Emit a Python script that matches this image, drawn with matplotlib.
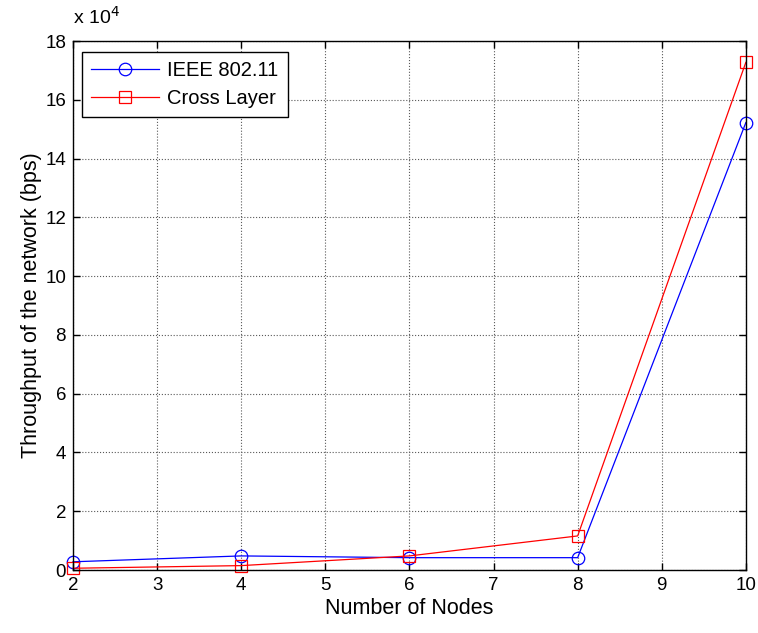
import matplotlib
matplotlib.use("Agg")
import matplotlib.pyplot as plt
from matplotlib.ticker import FuncFormatter, MultipleLocator

# datos
nodes = [2, 4, 6, 8, 10]
ieee_80211 = [2800, 4800, 4200, 4200, 152300]
cross_layer = [600, 1500, 4800, 11600, 172800]

plt.rcParams['font.family'] = ['Liberation Sans', 'DejaVu Sans']
plt.rcParams['font.size'] = 13.5

fig = plt.figure(figsize=(7.58, 6.33), dpi=100)
ax = fig.add_axes([0.0963, 0.0995, 0.8877, 0.8355])

ax.plot(nodes, ieee_80211, color='blue', linewidth=0.9, marker='o',
        markersize=9, markerfacecolor='none', markeredgewidth=0.9, label='IEEE 802.11',
        clip_on=False)
ax.plot(nodes, cross_layer, color='red', linewidth=0.9, marker='s',
        markersize=9, markerfacecolor='none', markeredgewidth=0.9, label='Cross Layer',
        clip_on=False)

ax.set_xlim(2, 10)
ax.set_ylim(0, 180000)
ax.xaxis.set_major_locator(MultipleLocator(1))
ax.yaxis.set_major_locator(MultipleLocator(20000))
ax.yaxis.set_major_formatter(FuncFormatter(lambda v, p: f"{v / 1e4:g}"))

ax.grid(True, linestyle=':', color='0.35', linewidth=0.8)
ax.tick_params(direction='in', top=True, right=True, length=5, width=1, pad=5,
               labelsize=13.5)
for s in ax.spines.values():
    s.set_linewidth(1.0)

ax.set_xlabel("Number of Nodes", fontsize=15.5, labelpad=3)
ax.set_ylabel("Throughput of the network (bps)", fontsize=15.5, labelpad=2)
ax.text(0.0, 1.025, r"x 10$^4$", transform=ax.transAxes, ha='left', va='bottom',
        fontsize=14)

leg = ax.legend(loc='upper left', bbox_to_anchor=(0.013, 0.979), borderaxespad=0,
                fancybox=False, edgecolor='black', framealpha=1, handlelength=3.4,
                borderpad=0.45, labelspacing=0.45, handletextpad=0.4, fontsize=14.5)
leg.get_frame().set_linewidth(1.0)

fig.savefig("out.png", dpi=100)
